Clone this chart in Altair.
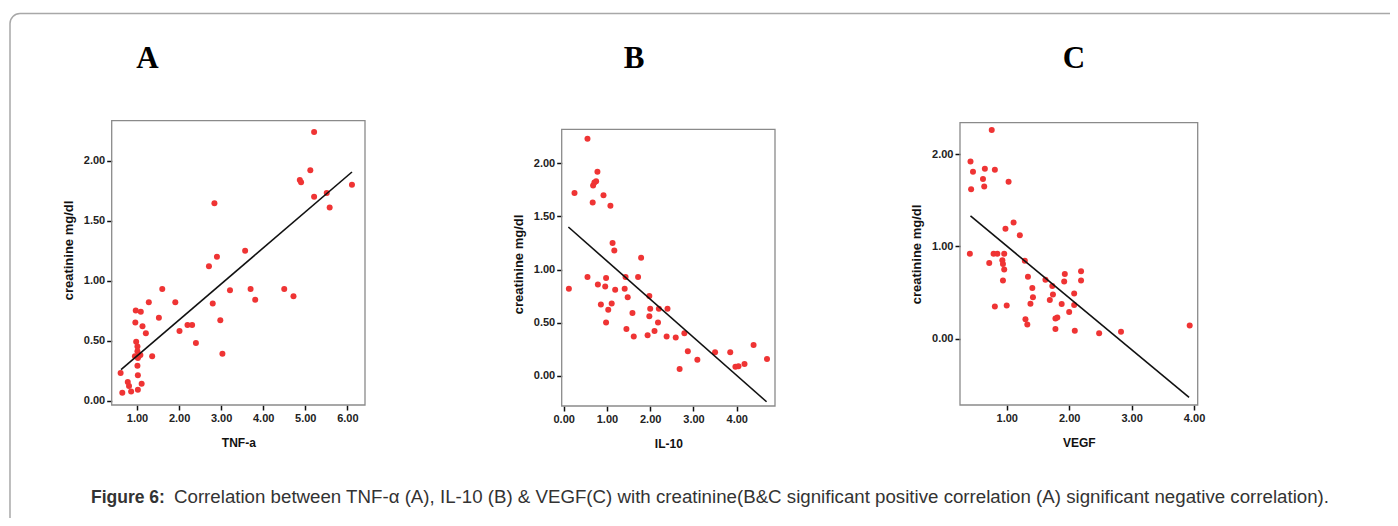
import altair as alt
import pandas as pd

# ---------------- data ----------------
# Panel A : TNF-a vs creatinine
tnf_x = [5.21, 5.12, 4.87, 4.90, 6.11, 5.51, 5.21, 5.58, 2.84, 3.57, 2.90, 2.71, 3.21, 3.70,
         3.81, 4.50, 4.72, 2.80, 2.98, 3.03, 2.40, 2.20, 2.31, 2.01, 1.91, 1.60, 1.52, 1.28,
         1.36, 1.21, 1.13, 1.09, 0.97, 0.96, 0.98, 1.01, 1.01, 0.95, 1.04, 1.08, 1.02, 1.01,
         1.02, 1.11, 1.02, 0.61, 0.65, 0.78, 0.81, 0.86]
tnf_y = [2.24, 1.92, 1.84, 1.82, 1.80, 1.73, 1.70, 1.61, 1.645, 1.25, 1.20, 1.12, 0.92, 0.93,
         0.84, 0.93, 0.87, 0.81, 0.67, 0.39, 0.48, 0.63, 0.63, 0.58, 0.82, 0.93, 0.69, 0.82,
         0.37, 0.56, 0.62, 0.74, 0.75, 0.65, 0.49, 0.45, 0.41, 0.37, 0.37, 0.38, 0.355, 0.29,
         0.21, 0.14, 0.09, 0.23, 0.064, 0.155, 0.12, 0.075]
tnf_fit_x = [0.62, 6.11]
tnf_fit_y = [0.258, 1.906]

# Panel B : IL-10 vs creatinine
il_x = [0.55, 0.25, 0.78, 0.68, 0.71, 0.75, 0.67, 0.92, 1.08, 1.13, 1.17, 1.79, 0.12, 0.55,
        0.79, 0.98, 0.96, 0.86, 1.03, 1.11, 1.19, 0.98, 1.43, 1.41, 1.48, 1.72, 1.59, 1.45,
        1.62, 1.98, 2.00, 1.98, 1.94, 2.20, 2.40, 2.18, 2.10, 2.38, 2.59, 2.79, 2.87, 2.68,
        3.09, 3.50, 3.85, 3.97, 4.04, 4.18, 4.39, 4.70]
il_y = [2.23, 1.72, 1.92, 1.79, 1.82, 1.83, 1.63, 1.70, 1.60, 1.25, 1.18, 1.11, 0.82, 0.93,
        0.86, 0.92, 0.84, 0.67, 0.62, 0.68, 0.81, 0.50, 0.93, 0.82, 0.74, 0.93, 0.59, 0.44,
        0.37, 0.75, 0.63, 0.56, 0.38, 0.63, 0.63, 0.50, 0.42, 0.37, 0.36, 0.40, 0.23, 0.063,
        0.15, 0.22, 0.22, 0.085, 0.09, 0.11, 0.29, 0.157]
il_fit_x = [0.108, 4.69]
il_fit_y = [1.40, -0.245]

# Panel C : VEGF vs creatinine
vegf_x = [0.76, 0.42, 0.46, 0.65, 0.81, 0.62, 0.64, 0.43, 1.03, 1.11, 0.98, 1.21, 0.41, 0.79,
          0.85, 0.96, 0.72, 0.93, 0.94, 0.96, 0.94, 0.81, 1.00, 1.29, 1.34, 1.41, 1.42, 1.38,
          1.30, 1.33, 1.62, 1.73, 1.74, 1.69, 1.88, 1.78, 1.81, 1.78, 1.93, 1.92, 2.08, 2.08,
          2.00, 2.09, 2.19, 2.19, 2.48, 2.83, 3.93]
vegf_y = [2.26, 1.92, 1.81, 1.84, 1.83, 1.73, 1.65, 1.62, 1.70, 1.26, 1.19, 1.12, 0.92, 0.92,
          0.92, 0.92, 0.82, 0.85, 0.81, 0.75, 0.63, 0.35, 0.36, 0.845, 0.67, 0.55, 0.45, 0.38,
          0.21, 0.155, 0.64, 0.57, 0.48, 0.42, 0.375, 0.22, 0.23, 0.105, 0.70, 0.62, 0.49, 0.365,
          0.29, 0.087, 0.73, 0.63, 0.058, 0.076, 0.144]
vegf_fit_x = [0.42, 3.92]
vegf_fit_y = [1.33, -0.635]

x_titles = ["TNF-a", "IL-10", "VEGF"]
y_title = "creatinine mg/dl"
panel_letters = ["A", "B", "C"]
caption_bold = "Figure 6:"
caption_rest = ("Correlation between TNF-\u03b1 (A), IL-10 (B) & VEGF(C) with creatinine(B&C "
                "significant positive correlation (A) significant negative correlation).")

# ---------------- layout (pixels, chart coordinates = page - 8) ----------------
W, H = 1382, 510
panels = [
    dict(x=tnf_x, y=tnf_y, fx=tnf_fit_x, fy=tnf_fit_y, L=103.7, R=357.0, T=112.7, B=397.0,
         xd=[0.398, 6.42], yd=[-0.0375, 2.334], xt=[1, 2, 3, 4, 5, 6], yt=[0, 0.5, 1, 1.5, 2],
         letter_x=139.5, title_y=242),
    dict(x=il_x, y=il_y, fx=il_fit_x, fy=il_fit_y, L=553.7, R=767.0, T=121.3, B=398.0,
         xd=[-0.046, 4.885], yd=[-0.285, 2.32], xt=[0, 1, 2, 3, 4], yt=[0, 0.5, 1, 1.5, 2],
         letter_x=626, title_y=256),
    dict(x=vegf_x, y=vegf_y, fx=vegf_fit_x, fy=vegf_fit_y, L=952.0, R=1189.7, T=114.7, B=397.0,
         xd=[0.252, 4.058], yd=[-0.718, 2.34], xt=[1, 2, 3, 4], yt=[0, 1, 2],
         letter_x=1066, title_y=246),
]

one = pd.DataFrame({"k": [0]})

layers = []

# outer rounded frame
layers.append(
    alt.Chart(one).mark_rect(fill="transparent", stroke="#a8a8a8", strokeWidth=1.5, cornerRadius=10)
    .encode(x=alt.value(2), x2=alt.value(1430), y=alt.value(5.5), y2=alt.value(580))
)

# caption
layers.append(
    alt.Chart(one).mark_text(text=caption_bold, font="Liberation Sans", fontWeight="bold",
                             fontSize=17.5, align="left", baseline="alphabetic", color="#333333")
    .encode(x=alt.value(83), y=alt.value(495))
)
layers.append(
    alt.Chart(one).mark_text(text=caption_rest, font="Liberation Sans", fontSize=18.7,
                             align="left", baseline="alphabetic", color="#333333")
    .encode(x=alt.value(166), y=alt.value(495))
)

for i, p in enumerate(panels):
    # panel letter
    layers.append(
        alt.Chart(one).mark_text(text=panel_letters[i], font="Liberation Serif", fontWeight="bold",
                                 fontSize=31, align="center", baseline="alphabetic", color="#000000")
        .encode(x=alt.value(p["letter_x"]), y=alt.value(60))
    )
    # plot frame
    layers.append(
        alt.Chart(one).mark_rect(fill="transparent", stroke="#8a8a8a", strokeWidth=1.3)
        .encode(x=alt.value(p["L"]), x2=alt.value(p["R"]), y=alt.value(p["T"]), y2=alt.value(p["B"]))
    )

    pts = pd.DataFrame({"x": p["x"], "y": p["y"]})
    fit = pd.DataFrame({"x": p["fx"], "y": p["fy"]})
    xs = alt.Scale(domain=p["xd"], range=[p["L"], p["R"]], nice=False, zero=False)
    ys = alt.Scale(domain=p["yd"], range=[p["B"], p["T"]], nice=False, zero=False)
    xa = alt.Axis(orient="bottom", offset=p["B"] - H, values=p["xt"], format=".2f",
                  title=x_titles[i], domain=False, grid=False)
    ya = alt.Axis(orient="left", offset=-p["L"], values=p["yt"], format=".2f",
                  title=y_title, titleY=p["title_y"], titleFontSize=13, domain=False, grid=False)
    points = alt.Chart(pts).mark_circle(size=36, opacity=1, color="#ef3434").encode(
        x=alt.X("x:Q", scale=xs, axis=xa),
        y=alt.Y("y:Q", scale=ys, axis=ya),
    )
    line = alt.Chart(fit).mark_line(color="#111111", strokeWidth=1.6).encode(
        x=alt.X("x:Q", scale=xs),
        y=alt.Y("y:Q", scale=ys),
    )
    layers.append(alt.layer(points, line))

chart = alt.layer(*layers).resolve_scale(x="independent", y="independent").resolve_axis(
    x="independent", y="independent"
).properties(
    width=W, height=H, autosize=alt.AutoSizeParams(type="none"), padding=0
).configure_view(stroke="transparent").configure_axis(
    tickColor="#111111", tickSize=5, tickWidth=1.5,
    labelFont="Liberation Sans", labelFontWeight="bold", labelFontSize=11, labelColor="#222222",
    labelPadding=2,
    titleFont="Liberation Sans", titleFontWeight="bold", titleFontSize=12, titleColor="#111111",
).configure_axisX(titlePadding=14).configure_axisY(titlePadding=8)

chart.save("out.html", embed_options={"renderer": "svg", "actions": False})
